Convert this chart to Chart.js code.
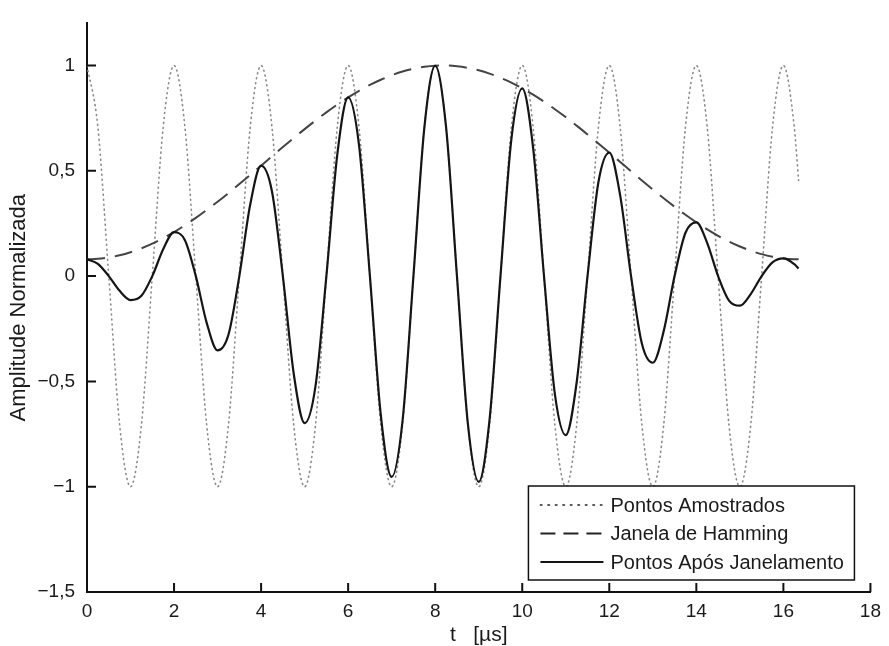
<!DOCTYPE html>
<html>
<head>
<meta charset="utf-8">
<script src="https://cdn.jsdelivr.net/npm/chart.js@4.4.1/dist/chart.umd.min.js"></script>
<style>
  html, body { margin: 0; padding: 0; background: #fff; }
  canvas { display: block; }
</style>
</head>
<body>
<canvas id="grafico" width="889" height="646"></canvas>
<script>
// tempo em microssegundos
const tempo = [0,0.25,0.5,0.75,1,1.25,1.5,1.75,2,2.25,2.5,2.75,3,3.25,3.5,3.75,4,4.25,4.5,4.75,
  5,5.25,5.5,5.75,6,6.25,6.5,6.75,7,7.25,7.5,7.75,8,8.25,8.5,8.75,9,9.25,9.5,9.75,
  10,10.25,10.5,10.75,11,11.25,11.5,11.75,12,12.25,12.5,12.75,13,13.25,13.5,13.75,14,14.25,14.5,14.75,
  15,15.25,15.5,15.75,16,16.25,16.35];

const amostrados = [1,0.707,0,-0.707,-1,-0.707,0,0.707,1,0.707,0,-0.707,-1,-0.707,0,0.707,
  1,0.707,0,-0.707,-1,-0.707,0,0.707,1,0.707,0,-0.707,-1,-0.707,0,0.707,
  1,0.707,0,-0.707,-1,-0.707,0,0.707,1,0.707,0,-0.707,-1,-0.707,0,0.707,
  1,0.707,0,-0.707,-1,-0.707,0,0.707,1,0.707,0,-0.707,-1,-0.707,0,0.707,
  1,0.707,0.454];

const hamming = [0.08,0.0821,0.0885,0.099,0.1136,0.1321,0.1544,0.1802,0.2093,0.2415,
  0.2763,0.3137,0.353,0.3939,0.4371,0.4805,0.5245,0.5687,0.6127,0.6559,
  0.698,0.7388,0.7776,0.8143,0.8486,0.8799,0.908,0.9325,0.9537,0.9713,
  0.9847,0.9939,0.999,0.9998,0.9964,0.9888,0.9771,0.9613,0.9416,0.9183,
  0.8914,0.8613,0.8282,0.7926,0.7549,0.7145,0.6728,0.63,0.5863,0.5422,
  0.498,0.4543,0.4113,0.3696,0.3293,0.2911,0.2552,0.2218,0.1914,0.1642,
  0.1405,0.1205,0.1044,0.0922,0.0841,0.0803,0.08];

const janelado = [0.08,0.0581,0,-0.07,-0.1136,-0.0934,0,0.1274,0.2093,0.1708,
  0,-0.2218,-0.353,-0.2785,0,0.3398,0.5245,0.4021,0,-0.4638,
  -0.698,-0.5224,0,0.5758,0.8486,0.6222,0,-0.6594,-0.9537,-0.6868,
  0,0.7028,0.999,0.707,0,-0.6992,-0.9771,-0.6797,0,0.6493,
  0.8914,0.609,0,-0.5604,-0.7549,-0.5052,0,0.4455,0.5863,0.3834,
  0,-0.3212,-0.4113,-0.2613,0,0.2058,0.2552,0.1568,0,-0.1161,
  -0.1405,-0.0852,0,0.0652,0.0841,0.0568,0.0363];

const xTicks = [0,2,4,6,8,10,12,14,16,18];
const yTicks = [-1.5,-1,-0.5,0,0.5,1];

const fonte = '"Liberation Sans", Arial, sans-serif';

function pares(ys) {
  return tempo.map((t, i) => ({x: t, y: ys[i]}));
}

// marcas dos eixos para dentro
const marcasInternas = {
  id: 'marcasInternas',
  afterDraw(chart) {
    const {ctx} = chart;
    const x = chart.scales.x, y = chart.scales.y;
    ctx.save();
    ctx.strokeStyle = '#111';
    ctx.lineWidth = 2;
    ctx.beginPath();
    x.ticks.forEach(t => {
      const px = x.getPixelForValue(t.value);
      ctx.moveTo(px, x.top);
      ctx.lineTo(px, x.top - 9);
    });
    y.ticks.forEach(t => {
      const py = y.getPixelForValue(t.value);
      ctx.moveTo(y.right, py);
      ctx.lineTo(y.right + 9, py);
    });
    ctx.stroke();
    ctx.restore();
  }
};

// legenda com caixa dentro da area do grafico
const legendaCaixa = {
  id: 'legendaCaixa',
  afterDraw(chart) {
    const {ctx, chartArea} = chart;
    const w = 326, h = 94;
    const x0 = chartArea.right - 16 - w, y0 = chartArea.bottom - 12 - h;
    ctx.save();
    ctx.fillStyle = '#fff';
    ctx.fillRect(x0, y0, w, h);
    ctx.strokeStyle = '#111';
    ctx.lineWidth = 1.5;
    ctx.setLineDash([]);
    ctx.strokeRect(x0, y0, w, h);
    ctx.font = '20px ' + fonte;
    ctx.textBaseline = 'middle';
    chart.data.datasets.forEach((ds, i) => {
      const yy = y0 + 19 + i * 28.5;
      ctx.beginPath();
      ctx.setLineDash(ds.legendaDash || ds.borderDash || []);
      ctx.strokeStyle = ds.legendaCor || ds.borderColor;
      ctx.lineWidth = ds.borderWidth;
      ctx.lineCap = ds.borderCapStyle || 'butt';
      ctx.moveTo(x0 + 12, yy);
      ctx.lineTo(x0 + 75, yy);
      ctx.stroke();
      ctx.setLineDash([]);
      ctx.fillStyle = '#1a1a1a';
      ctx.fillText(ds.label, x0 + 82, yy + 1);
    });
    ctx.restore();
  }
};

var ctx = document.getElementById('grafico');
var grafico = new Chart(ctx, {
  type: 'line',
  data: {
    datasets: [
      {
        label: 'Pontos Amostrados',
        data: pares(amostrados),
        borderColor: '#8a8a8a',
        legendaCor: '#222',
        borderWidth: 1.6,
        borderDash: [1, 4],
        legendaDash: [1.5, 6],
        borderCapStyle: 'round',
        cubicInterpolationMode: 'monotone',
        pointRadius: 0,
        order: 2
      },
      {
        label: 'Janela de Hamming',
        data: pares(hamming),
        borderColor: '#444',
        legendaCor: '#222',
        borderWidth: 2,
        borderDash: [18, 10],
        legendaDash: [15, 8],
        cubicInterpolationMode: 'monotone',
        pointRadius: 0,
        order: 1
      },
      {
        label: 'Pontos Após Janelamento',
        data: pares(janelado),
        borderColor: '#151515',
        borderWidth: 2.2,
        cubicInterpolationMode: 'monotone',
        pointRadius: 0,
        order: 0
      }
    ]
  },
  options: {
    responsive: false,
    animation: false,
    devicePixelRatio: 1,
    layout: { padding: { top: 13, right: 12, left: 0, bottom: 0 } },
    plugins: {
      legend: { display: false },
      tooltip: { enabled: false }
    },
    scales: {
      x: {
        type: 'linear',
        min: 0,
        max: 18,
        afterBuildTicks: s => { s.ticks = xTicks.map(v => ({value: v})); },
        afterFit: s => { s.height = 54; },
        grid: { display: false, drawTicks: false },
        border: { display: true, color: '#111', width: 2 },
        ticks: {
          color: '#1a1a1a',
          padding: 8,
          maxRotation: 0,
          font: { family: fonte, size: 19 },
          callback: v => String(v)
        },
        title: {
          display: true,
          text: 't   [µs]',
          color: '#1a1a1a',
          font: { family: fonte, size: 21, lineHeight: 1 },
          padding: { top: 0, bottom: 0 }
        }
      },
      y: {
        min: -1.5,
        max: 1.2,
        afterBuildTicks: s => { s.ticks = yTicks.map(v => ({value: v})); },
        afterFit: s => { s.width = 87; },
        grid: { display: false, drawTicks: false },
        border: { display: true, color: '#111', width: 2 },
        ticks: {
          color: '#1a1a1a',
          padding: 12,
          font: { family: fonte, size: 19 },
          callback: v => String(v).replace('.', ',').replace('-', '\u2212')
        },
        title: {
          display: true,
          text: 'Amplitude Normalizada',
          color: '#1a1a1a',
          font: { family: fonte, size: 22, lineHeight: 1 },
          padding: { top: 8, bottom: 0 }
        }
      }
    }
  },
  plugins: [marcasInternas, legendaCaixa]
});
</script>
</body>
</html>
